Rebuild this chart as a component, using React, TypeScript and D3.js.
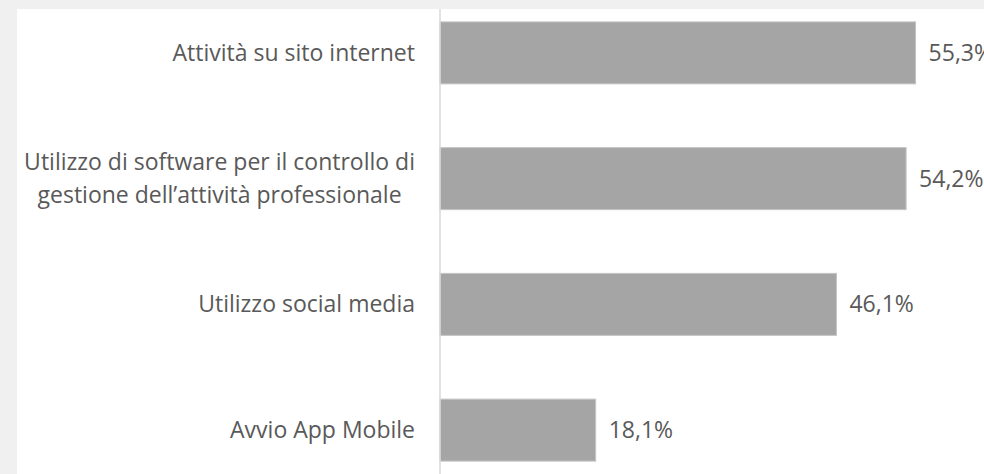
import React, { useEffect, useRef } from "react";
import * as d3 from "d3";

const categories: string[][] = [
  ["Attività su sito internet"],
  ["Utilizzo di software per il controllo di", "gestione dell’attività professionale"],
  ["Utilizzo social media"],
  ["Avvio App Mobile"],
];
const values: number[] = [55.3, 54.2, 46.1, 18.1];
const valueLabels: string[] = ["55,3%", "54,2%", "46,1%", "18,1%"];

const W = 984;
const H = 474;
const FONT = "'Open Sans', sans-serif";
const FS = 23;

export default function App() {
  const ref = useRef<SVGSVGElement | null>(null);

  useEffect(() => {
    const svg = d3.select(ref.current);
    svg.selectAll("*").remove();

    svg.append("rect").attr("x", 0).attr("y", 0).attr("width", W).attr("height", H).attr("fill", "#f0f0f0");
    svg.append("rect").attr("x", 17).attr("y", 9).attr("width", W - 17).attr("height", H - 9).attr("fill", "#ffffff");

    const idx = values.map((_, i) => String(i));
    const y = d3.scaleBand<string>().domain(idx).range([-10, 493]).paddingInner(0.507).paddingOuter(0.2535);
    const x = d3.scaleLinear().domain([0, 60]).range([440, 956]);

    // bars
    svg
      .append("g")
      .selectAll("rect")
      .data(values)
      .join("rect")
      .attr("x", x(0))
      .attr("y", (_, i) => y(String(i))!)
      .attr("width", (d) => x(d) - x(0))
      .attr("height", y.bandwidth())
      .attr("fill", "#a5a5a5")
      .attr("stroke", "#c4c4c4")
      .attr("stroke-width", 1);

    // axis line
    svg
      .append("line")
      .attr("x1", x(0))
      .attr("x2", x(0))
      .attr("y1", 9)
      .attr("y2", H)
      .attr("stroke", "#d9d9d9")
      .attr("stroke-width", 1.5);

    // value labels
    svg
      .append("g")
      .selectAll("text")
      .data(values)
      .join("text")
      .attr("x", (d) => x(d) + 13)
      .attr("y", (_, i) => y(String(i))! + y.bandwidth() / 2)
      .attr("dy", "0.35em")
      .attr("font-family", FONT)
      .attr("font-size", FS)
      .attr("fill", "#595959")
      .text((_, i) => valueLabels[i]);

    // category labels
    const labelRight = 415;
    const lineH = 33;
    categories.forEach((lines, i) => {
      const cy = y(String(i))! + y.bandwidth() / 2;
      const g = svg.append("g");
      const texts = lines.map((ln, j) =>
        g
          .append("text")
          .attr("y", cy + (j - (lines.length - 1) / 2) * lineH)
          .attr("dy", "0.35em")
          .attr("font-family", FONT)
          .attr("font-size", FS)
          .attr("fill", "#595959")
          .text(ln)
      );
      const widths = texts.map((t) => (t.node() as SVGTextElement).getComputedTextLength());
      const maxW = Math.max(...widths);
      const cx = labelRight - maxW / 2;
      texts.forEach((t) => t.attr("x", cx).attr("text-anchor", "middle"));
    });
  }, []);

  return (
    <svg
      ref={ref}
      width={W}
      height={H}
      style={{ position: "fixed", top: 0, left: 0, display: "block" }}
    />
  );
}
